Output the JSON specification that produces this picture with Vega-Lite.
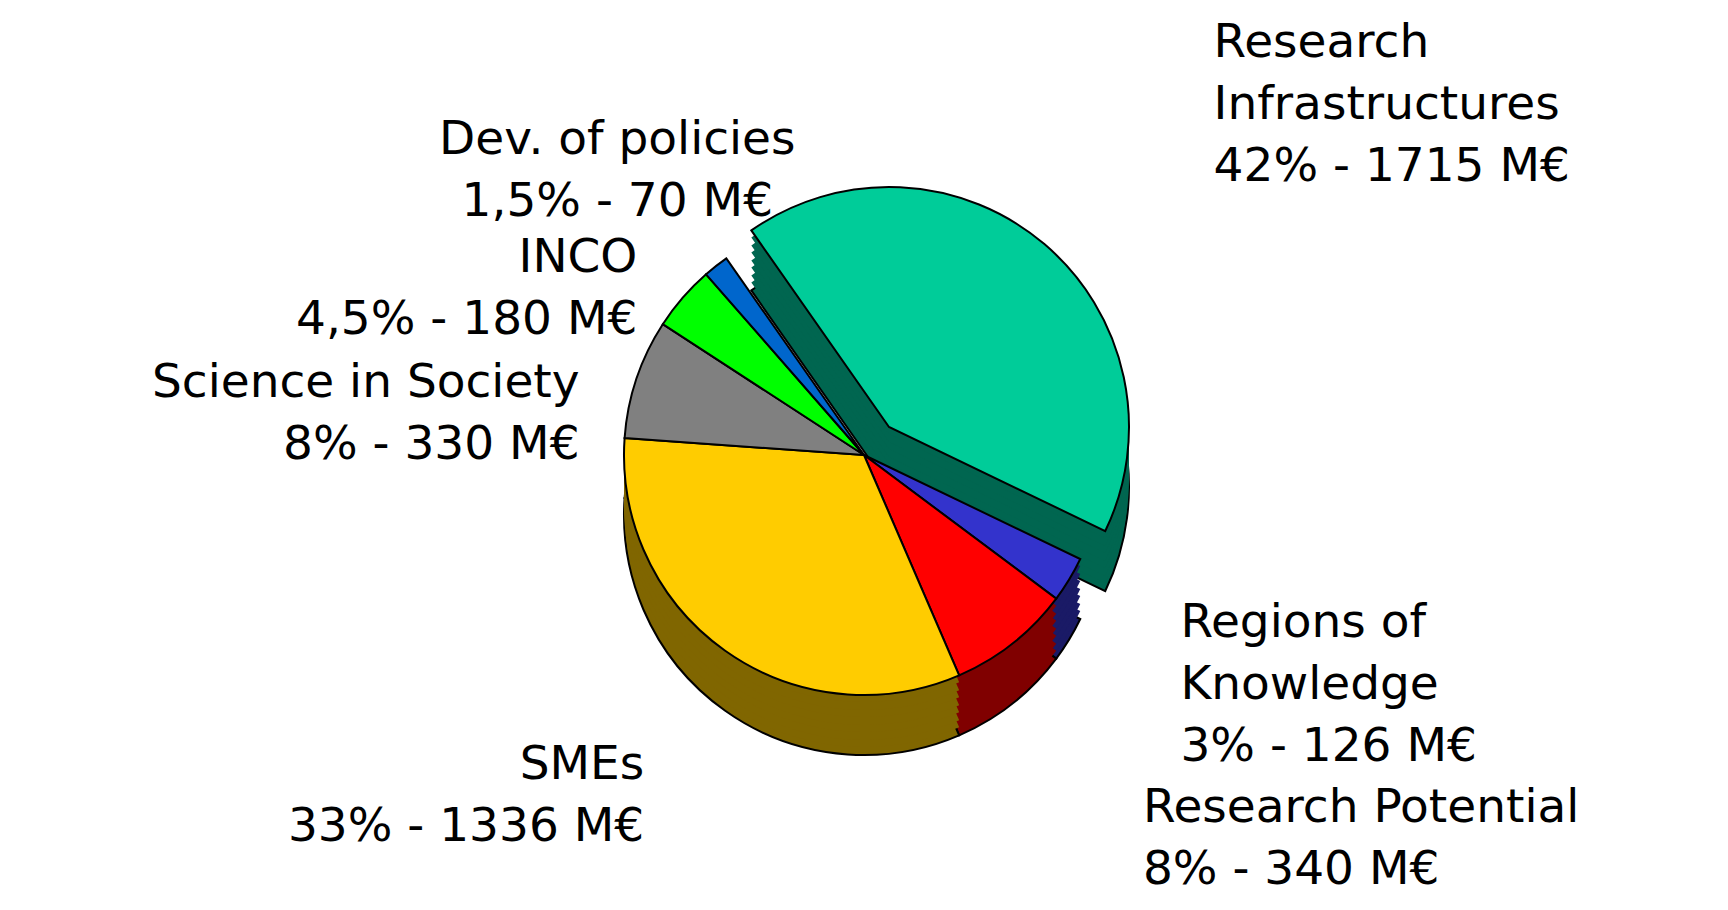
{
  "$schema": "https://vega.github.io/schema/vega-lite/v6.json",
  "width": 1728,
  "height": 910,
  "autosize": {"type": "none"},
  "padding": 0,
  "background": "white",
  "view": {"stroke": null},
  "data": {
    "values": [
      {"name": "Research Infrastructures", "label": "Research\nInfrastructures\n42% - 1715 M€", "value": 1715},
      {"name": "Regions of Knowledge", "label": "Regions of\nKnowledge\n3% - 126 M€", "value": 126},
      {"name": "Research Potential", "label": "Research Potential\n8% - 340 M€", "value": 340},
      {"name": "SMEs", "label": "SMEs\n33% - 1336 M€", "value": 1336},
      {"name": "Science in Society", "label": "Science in Society\n8% - 330 M€", "value": 330},
      {"name": "INCO", "label": "INCO\n4,5% - 180 M€", "value": 180},
      {"name": "Dev. of policies", "label": "Dev. of policies\n1,5% - 70 M€", "value": 70}
    ]
  },
  "transform": [{"window": [{"op": "row_number", "as": "idx"}]}],
  "encoding": {
    "theta": {"field": "value", "type": "quantitative", "stack": true, "scale": {"range": [-0.6109, 5.6723]}},
    "order": {"field": "idx", "type": "quantitative"}
  },
  "layer": [
    {"mark": {"type": "arc", "radius": 240, "stroke": "#000000", "strokeWidth": 2, "xOffset": {"expr": "datum.name === 'Research Infrastructures' ? 25 : 0"}, "yOffset": {"expr": "datum.name === 'Research Infrastructures' ? 32 : 60"}},
     "encoding": {"fill": {"field": "name", "type": "nominal", "legend": null, "scale": {"domain": ["Research Infrastructures", "Regions of Knowledge", "Research Potential", "SMEs", "Science in Society", "INCO", "Dev. of policies"], "range": ["#006650", "#1A1A66", "#800000", "#806600", "#404040", "#008000", "#003366"]}}}},
    {"mark": {"type": "arc", "radius": 240, "xOffset": {"expr": "datum.name === 'Research Infrastructures' ? 25 : 0"}, "yOffset": {"expr": "datum.name === 'Research Infrastructures' ? 24 : 52"}},
     "encoding": {"fill": {"field": "name", "type": "nominal", "legend": null}}},
    {"mark": {"type": "arc", "radius": 240, "xOffset": {"expr": "datum.name === 'Research Infrastructures' ? 25 : 0"}, "yOffset": {"expr": "datum.name === 'Research Infrastructures' ? 17 : 45"}},
     "encoding": {"fill": {"field": "name", "type": "nominal", "legend": null}}},
    {"mark": {"type": "arc", "radius": 240, "xOffset": {"expr": "datum.name === 'Research Infrastructures' ? 25 : 0"}, "yOffset": {"expr": "datum.name === 'Research Infrastructures' ? 9 : 37"}},
     "encoding": {"fill": {"field": "name", "type": "nominal", "legend": null}}},
    {"mark": {"type": "arc", "radius": 240, "xOffset": {"expr": "datum.name === 'Research Infrastructures' ? 25 : 0"}, "yOffset": {"expr": "datum.name === 'Research Infrastructures' ? 2 : 30"}},
     "encoding": {"fill": {"field": "name", "type": "nominal", "legend": null}}},
    {"mark": {"type": "arc", "radius": 240, "xOffset": {"expr": "datum.name === 'Research Infrastructures' ? 25 : 0"}, "yOffset": {"expr": "datum.name === 'Research Infrastructures' ? -6 : 22"}},
     "encoding": {"fill": {"field": "name", "type": "nominal", "legend": null}}},
    {"mark": {"type": "arc", "radius": 240, "xOffset": {"expr": "datum.name === 'Research Infrastructures' ? 25 : 0"}, "yOffset": {"expr": "datum.name === 'Research Infrastructures' ? -13 : 15"}},
     "encoding": {"fill": {"field": "name", "type": "nominal", "legend": null}}},
    {"mark": {"type": "arc", "radius": 240, "xOffset": {"expr": "datum.name === 'Research Infrastructures' ? 25 : 0"}, "yOffset": {"expr": "datum.name === 'Research Infrastructures' ? -21 : 7"}},
     "encoding": {"fill": {"field": "name", "type": "nominal", "legend": null}}},
    {"mark": {"type": "arc", "radius": 240, "stroke": "#000000", "strokeWidth": 2, "xOffset": {"expr": "datum.name === 'Research Infrastructures' ? 25 : 0"}, "yOffset": {"expr": "datum.name === 'Research Infrastructures' ? -28 : 0"}},
     "encoding": {"color": {"field": "name", "type": "nominal", "legend": null, "scale": {"domain": ["Research Infrastructures", "Regions of Knowledge", "Research Potential", "SMEs", "Science in Society", "INCO", "Dev. of policies"], "range": ["#00CC99", "#3333CC", "#FF0000", "#FFCC00", "#808080", "#00FF00", "#0066CC"]}}}},
    {"mark": {"type": "text", "radius": 540, "font": "DejaVu Sans", "fontSize": 47, "lineHeight": 62, "lineBreak": "\n", "align": "left", "baseline": "middle", "color": "#000000"},
     "encoding": {"text": {"condition": {"test": "datum.name === 'Research Infrastructures'", "field": "label", "type": "nominal"}, "value": ""}}},
    {"mark": {"type": "text", "radius": 370, "font": "DejaVu Sans", "fontSize": 47, "lineHeight": 62, "lineBreak": "\n", "align": "left", "baseline": "bottom", "color": "#000000"},
     "encoding": {"text": {"condition": {"test": "datum.name === 'Regions of Knowledge'", "field": "label", "type": "nominal"}, "value": ""}}},
    {"mark": {"type": "text", "radius": 450, "font": "DejaVu Sans", "fontSize": 47, "lineHeight": 62, "lineBreak": "\n", "align": "left", "baseline": "middle", "color": "#000000"},
     "encoding": {"text": {"condition": {"test": "datum.name === 'Research Potential'", "field": "label", "type": "nominal"}, "value": ""}}},
    {"mark": {"type": "text", "radius": 380, "font": "DejaVu Sans", "fontSize": 47, "lineHeight": 62, "lineBreak": "\n", "align": "right", "baseline": "middle", "color": "#000000"},
     "encoding": {"text": {"condition": {"test": "datum.name === 'SMEs'", "field": "label", "type": "nominal"}, "value": ""}}},
    {"mark": {"type": "text", "radius": 300, "font": "DejaVu Sans", "fontSize": 47, "lineHeight": 62, "lineBreak": "\n", "align": "right", "baseline": "top", "color": "#000000"},
     "encoding": {"text": {"condition": {"test": "datum.name === 'Science in Society'", "field": "label", "type": "nominal"}, "value": ""}}},
    {"mark": {"type": "text", "radius": 300, "font": "DejaVu Sans", "fontSize": 47, "lineHeight": 62, "lineBreak": "\n", "align": "right", "baseline": "middle", "color": "#000000"},
     "encoding": {"text": {"condition": {"test": "datum.name === 'INCO'", "field": "label", "type": "nominal"}, "value": ""}}},
    {"mark": {"type": "text", "radius": 400, "font": "DejaVu Sans", "fontSize": 47, "lineHeight": 62, "lineBreak": "\n", "align": "center", "baseline": "middle", "color": "#000000"},
     "encoding": {"text": {"condition": {"test": "datum.name === 'Dev. of policies'", "field": "label", "type": "nominal"}, "value": ""}}}
  ]
}
